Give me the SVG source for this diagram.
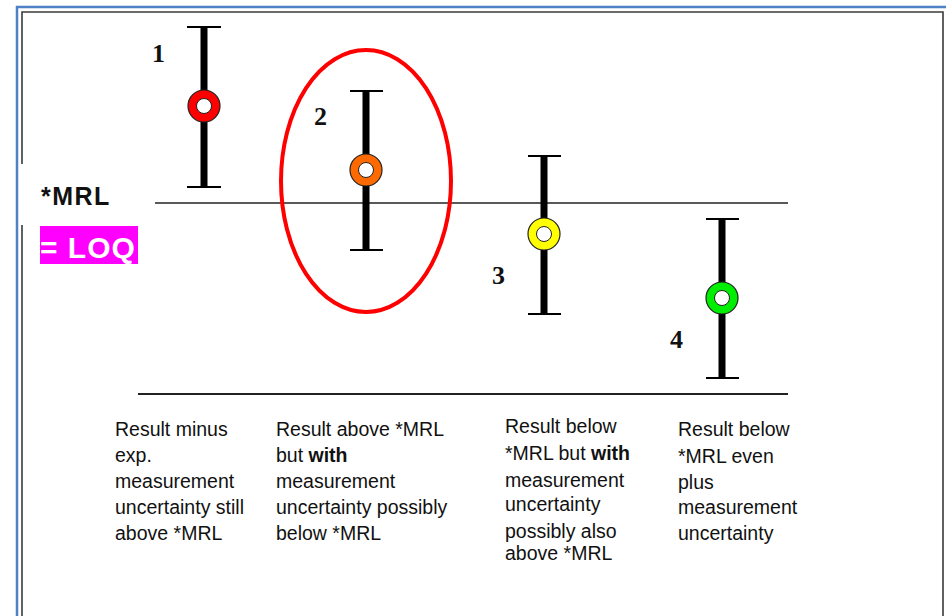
<svg xmlns="http://www.w3.org/2000/svg" width="946" height="616" viewBox="0 0 946 616">
  <style>
    .frame-blue { stroke: #4f81c7; stroke-width: 2.5; fill: none; }
    .frame-dark { stroke: #3a3a3a; stroke-width: 1.6; fill: none; }
    .level { stroke: #222; fill: none; }
    .bar { stroke: #000; stroke-width: 7; }
    .cap { stroke: #000; stroke-width: 2; }
    .ring { stroke: #222; stroke-width: 1.2; }
    .hole { fill: #fff; stroke: #222; stroke-width: 1; }
    .num { font-family: "Liberation Serif", "Times New Roman", serif; font-weight: bold; font-size: 26px; fill: #111; }
    .cap-text { font-family: "Liberation Sans", Arial, sans-serif; font-size: 19.5px; fill: #111; }
    .b { font-weight: bold; }
  </style>

  <!-- page frame -->
  <g id="frame">
    <polyline class="frame-blue" points="17,616 17,7 946,7"/>
    <polyline class="frame-dark" points="22,164 22,12 943,12 943,616"/>
    <line class="frame-dark" x1="22" y1="225" x2="22" y2="616"/>
  </g>

  <!-- reference levels -->
  <g id="connectors">
    <line class="level" x1="155" y1="203" x2="788" y2="203" stroke-width="1.5"/>
    <line class="level" x1="138" y1="394" x2="788" y2="394" stroke-width="2"/>
  </g>

  <!-- level labels -->
  <g id="mrl-label">
    <text x="41" y="205" font-family="Liberation Sans, Arial, sans-serif" font-weight="bold" font-size="25" fill="#111" letter-spacing="1.5">*MRL</text>
  </g>
  <g id="loq-label">
    <rect x="40" y="226" width="98" height="38" fill="#ff00ff"/>
    <text x="40" y="258" font-family="Liberation Sans, Arial, sans-serif" font-weight="bold" font-size="30" fill="#fff" letter-spacing="1">= LOQ</text>
  </g>

  <!-- highlight around result 2 -->
  <g id="highlight">
    <ellipse cx="366" cy="181" rx="85" ry="131" fill="none" stroke="#ff0000" stroke-width="4"/>
  </g>

  <!-- result 1 -->
  <g id="result-1">
    <line class="bar" x1="204" y1="27" x2="204" y2="187"/>
    <line class="cap" x1="187" y1="27" x2="221" y2="27"/>
    <line class="cap" x1="187" y1="187" x2="221" y2="187"/>
    <circle class="ring" cx="204" cy="106" r="16" fill="#ff0000"/>
    <circle class="hole" cx="204" cy="106" r="7.5"/>
    <text class="num" x="152" y="62">1</text>
  </g>

  <!-- result 2 -->
  <g id="result-2">
    <line class="bar" x1="366" y1="91" x2="366" y2="250"/>
    <line class="cap" x1="350" y1="91" x2="383" y2="91"/>
    <line class="cap" x1="350" y1="250" x2="383" y2="250"/>
    <circle class="ring" cx="366" cy="170" r="16" fill="#ff6a00"/>
    <circle class="hole" cx="366" cy="170" r="7.5"/>
    <text class="num" x="314" y="125">2</text>
  </g>

  <!-- result 3 -->
  <g id="result-3">
    <line class="bar" x1="544" y1="156" x2="544" y2="314"/>
    <line class="cap" x1="528" y1="156" x2="561" y2="156"/>
    <line class="cap" x1="528" y1="314" x2="561" y2="314"/>
    <circle class="ring" cx="544" cy="234" r="16" fill="#ffff00"/>
    <circle class="hole" cx="544" cy="234" r="7.5"/>
    <text class="num" x="492" y="284">3</text>
  </g>

  <!-- result 4 -->
  <g id="result-4">
    <line class="bar" x1="722" y1="219" x2="722" y2="378"/>
    <line class="cap" x1="706" y1="219" x2="739" y2="219"/>
    <line class="cap" x1="706" y1="378" x2="739" y2="378"/>
    <circle class="ring" cx="722" cy="298" r="16" fill="#00ee00"/>
    <circle class="hole" cx="722" cy="298" r="7.5"/>
    <text class="num" x="670" y="348">4</text>
  </g>

  <!-- explanations -->
  <g id="text-1" class="cap-text">
    <text x="115" y="436">Result minus</text>
    <text x="115" y="462">exp.</text>
    <text x="115" y="488">measurement</text>
    <text x="115" y="514">uncertainty still</text>
    <text x="115" y="540">above *MRL</text>
  </g>
  <g id="text-2" class="cap-text">
    <text x="276" y="436">Result above *MRL</text>
    <text x="276" y="462">but <tspan class="b">with</tspan></text>
    <text x="276" y="488">measurement</text>
    <text x="276" y="514">uncertainty possibly</text>
    <text x="276" y="540">below *MRL</text>
  </g>
  <g id="text-3" class="cap-text">
    <text x="505" y="433">Result below</text>
    <text x="505" y="460">*MRL but <tspan class="b">with</tspan></text>
    <text x="505" y="487">measurement</text>
    <text x="505" y="511">uncertainty</text>
    <text x="505" y="538">possibly also</text>
    <text x="505" y="560">above *MRL</text>
  </g>
  <g id="text-4" class="cap-text">
    <text x="678" y="436">Result below</text>
    <text x="678" y="463">*MRL even</text>
    <text x="678" y="489">plus</text>
    <text x="678" y="514">measurement</text>
    <text x="678" y="540">uncertainty</text>
  </g>
</svg>
